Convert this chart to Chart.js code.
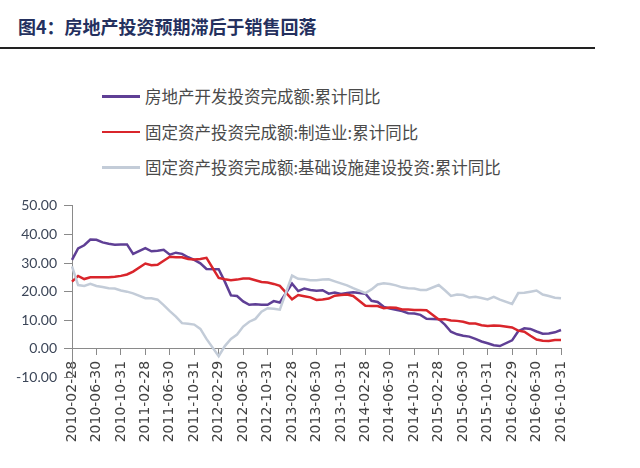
<!DOCTYPE html>
<html>
<head>
<meta charset="utf-8">
<script src="https://cdn.jsdelivr.net/npm/chart.js@4"></script>
<style>
  body { margin: 0; width: 640px; height: 468px; background: #fff; position: relative; overflow: hidden; }
  #title { position: absolute; left: 18px; top: 13px; font: bold 18px "Noto Sans CJK SC"; color: #24305e; white-space: nowrap; }
  #rule { position: absolute; left: 0; top: 47px; width: 595px; height: 2px; background: #222; }
  #legend { position: absolute; left: 102px; top: 84px; font: 16.5px "Noto Sans CJK SC"; color: #4a4a4a; }
  #legend div { height: 35.5px; display: flex; align-items: flex-start; white-space: nowrap; }
  #legend span.sw { display: inline-block; width: 38px; height: 2.5px; margin-right: 5px; margin-top: 11px; }
  #wrap { position: absolute; left: 0; top: 190px; width: 640px; height: 278px; }
</style>
</head>
<body>
<div id="title">图4：房地产投资预期滞后于销售回落</div>
<div id="rule"></div>
<div id="legend"></div>
<div id="wrap"><canvas id="mainChart"></canvas></div>
<script>
// monthly, 2010-02 .. 2016-10 (January has no separate figure -> null)
const months = [];
for (let y = 2010; y <= 2016; y++) {
    for (let m = 1; m <= 12; m++) {
        if (y === 2010 && m < 2) continue;
        if (y === 2016 && m > 10) continue;
        const last = new Date(y, m, 0).getDate();
        months.push(y + '-' + String(m).padStart(2, '0') + '-' + String(last).padStart(2, '0'));
    }
}

const seriesNames = [
    '房地产开发投资完成额:累计同比',
    '固定资产投资完成额:制造业:累计同比',
    '固定资产投资完成额:基础设施建设投资:累计同比'
];

const realEstate = [
    31.1, 35.1, 36.2, 38.2, 38.1, 37.2, 36.7, 36.4, 36.5, 36.5, 33.2,
    null, 35.2, 34.1, 34.3, 34.6, 32.9, 33.6, 33.2, 32.0, 31.1, 29.9, 27.9,
    null, 27.8, 23.5, 18.7, 18.5, 16.6, 15.4, 15.6, 15.4, 15.4, 16.7, 16.2,
    null, 22.8, 20.2, 21.1, 20.6, 20.3, 20.5, 19.3, 19.7, 19.2, 19.5, 19.8,
    null, 19.3, 16.8, 16.4, 14.7, 14.1, 13.7, 13.2, 12.5, 12.4, 11.9, 10.5,
    null, 10.4, 8.5, 6.0, 5.1, 4.6, 4.3, 3.5, 2.6, 2.0, 1.3, 1.0,
    null, 3.0, 6.2, 7.2, 7.0, 6.1, 5.3, 5.4, 5.8, 6.6
];

const manufacturing = [
    23.5, 25.5, 24.4, 25.0, 25.0, 25.0, 25.0, 25.2, 25.5, 26.0, 27.0,
    null, 29.8, 29.2, 29.4, 30.8, 32.2, 32.0, 32.0, 31.4, 31.2, 31.4, 31.8,
    null, 24.8, 24.3, 24.0, 24.2, 24.6, 24.6, 24.0, 23.4, 23.2, 22.7, 22.0,
    null, 17.3, 18.8, 18.4, 18.0, 17.1, 17.3, 17.6, 18.6, 18.8, 19.0, 18.5,
    null, 15.1, 15.0, 15.0, 14.2, 14.5, 14.4, 13.8, 13.8, 13.6, 13.6, 13.5,
    null, 10.3, 10.4, 9.9, 9.8, 9.5, 8.9, 8.9, 8.3, 8.0, 8.2, 8.1,
    null, 7.5, 6.4, 6.0, 4.6, 3.3, 2.9, 2.8, 3.1, 3.1
];

const infrastructure = [
    28.8, 22.3, 22.0, 22.7, 22.0, 21.6, 21.2, 21.1, 20.4, 20.0, 19.4,
    null, 17.7, 17.7, 17.2, 15.3, 13.2, 11.3, 9.0, 8.8, 8.5, 7.0, 3.5,
    null, -2.5, 1.0, 3.5, 5.0, 7.8, 9.5, 10.5, 13.0, 14.2, 14.0, 13.7,
    null, 25.6, 24.5, 24.3, 24.0, 24.0, 24.2, 24.3, 23.6, 22.9, 22.2, 21.2,
    null, 19.5, 20.8, 22.5, 22.9, 22.7, 22.2, 21.5, 21.2, 21.1, 20.6, 20.6,
    null, 22.3, 20.5, 18.5, 19.0, 18.8, 18.0, 18.2, 17.8, 17.3, 18.2, 17.2,
    null, 15.7, 19.5, 19.6, 20.0, 20.4, 19.0, 18.5, 17.9, 17.7
];

const seriesColors = ['#5f3f95', '#d9252b', '#c3ccd8'];
const seriesValues = [realEstate, manufacturing, infrastructure];

// legend drawn as html so each entry sits on its own row
const legendEl = document.getElementById('legend');
seriesNames.forEach(function (name, i) {
    const row = document.createElement('div');
    row.innerHTML = '<span class="sw" style="background:' + seriesColors[i] + '"></span>' + name;
    legendEl.appendChild(row);
});

const axisColor = '#8a8a8a';

new Chart(document.getElementById('mainChart'), {
    type: 'line',
    data: {
        labels: months,
        datasets: seriesNames.map(function (name, i) {
            return {
                label: name,
                data: seriesValues[i],
                borderColor: seriesColors[i],
                backgroundColor: seriesColors[i],
                borderWidth: 2.5,
                pointRadius: 0,
                tension: 0,
                spanGaps: true,
                order: 3 - i
            };
        })
    },
    options: {
        responsive: true,
        maintainAspectRatio: false,
        animation: false,
        layout: { padding: { top: 15.7, right: 79, bottom: 90.4, left: 0 } },
        plugins: {
            legend: { display: false },
            tooltip: { enabled: false }
        },
        scales: {
            x: {
                position: { y: 0 },
                offset: false,
                grid: { drawOnChartArea: false, drawTicks: true, tickLength: 6, color: axisColor },
                border: { display: true, color: axisColor, width: 1 },
                ticks: {
                    autoSkip: false,
                    maxRotation: 90,
                    minRotation: 90,
                    padding: 6,
                    color: '#404040',
                    font: { family: 'DejaVu Sans', size: 14 },
                    callback: function (value, index) {
                        return index % 4 === 0 ? this.getLabelForValue(value) : null;
                    }
                }
            },
            y: {
                min: -10,
                max: 50,
                afterFit: function (scale) { scale.width = 72; },
                grid: { drawOnChartArea: false, drawTicks: true, tickLength: 8, color: axisColor },
                border: { display: true, color: axisColor, width: 1 },
                ticks: {
                    stepSize: 10,
                    padding: 7,
                    color: '#3c4658',
                    font: { family: 'Lato', size: 14 },
                    callback: function (v) { return v.toFixed(2); }
                }
            }
        }
    }
});
</script>
</body>
</html>
